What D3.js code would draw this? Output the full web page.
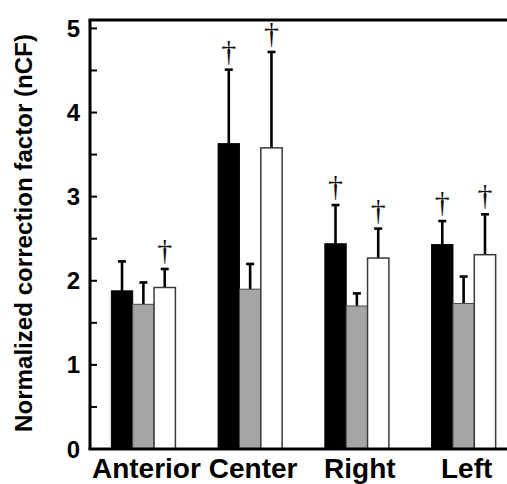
<!DOCTYPE html>
<html>
<head>
<meta charset="utf-8">
<script src="https://cdn.jsdelivr.net/npm/d3@7"></script>
<style>
  body { margin: 0; background: #fff; }
  svg { display: block; }
  text { font-family: "Liberation Sans", Arial, sans-serif; }
</style>
</head>
<body>
<div id="chart"></div>
<script>
// chart values
var categories = ["Anterior", "Center", "Right", "Left"];
var seriesNames = ["black", "gray", "white"];
var blackMean = [1.88, 3.63, 2.44, 2.43];
var blackErr  = [2.23, 4.51, 2.90, 2.71];
var grayMean  = [1.72, 1.90, 1.70, 1.73];
var grayErr   = [1.98, 2.20, 1.85, 2.05];
var whiteMean = [1.92, 3.58, 2.27, 2.31];
var whiteErr  = [2.14, 4.72, 2.62, 2.79];
var blackDagger = [false, true, true, true];
var grayDagger  = [false, false, false, false];
var whiteDagger = [true, true, true, true];
var yTicks = [0, 1, 2, 3, 4, 5];
var yMinorTicks = [0, 0.5, 1, 1.5, 2, 2.5, 3, 3.5, 4, 4.5, 5];

var width = 507, height = 484;

var svg = d3.select("#chart").append("svg")
            .attr("width", width)
            .attr("height", height);

var x = d3.scaleBand()
          .domain(categories)
          .range([90, 517])
          .paddingInner(0.4)
          .paddingOuter(0.2);

var xSub = d3.scaleBand()
             .domain(seriesNames)
             .range([0, x.bandwidth()]);

var y = d3.scaleLinear()
          .domain([0, 5.1])
          .range([449, 20]);

var means = {black: blackMean, gray: grayMean, white: whiteMean};
var errs = {black: blackErr, gray: grayErr, white: whiteErr};
var daggers = {black: blackDagger, gray: grayDagger, white: whiteDagger};
var fills = {black: "#000", gray: "#a5a5a5", white: "#fff"};
var strokes = {black: "#000", gray: "#4a4a4a", white: "#3a3a3a"};

var data = [];
categories.forEach(function(c, i) {
  seriesNames.forEach(function(s) {
    data.push({cat: c, series: s, value: means[s][i], err: errs[s][i], dagger: daggers[s][i]});
  });
});

function centerX(d) { return x(d.cat) + xSub(d.series) + xSub.bandwidth() / 2; }

// error bars (upper only)
var eb = svg.append("g").attr("class", "errors");
eb.selectAll("line.stem")
  .data(data)
  .enter()
  .append("line")
  .attr("x1", centerX)
  .attr("x2", centerX)
  .attr("y1", function(d) { return y(d.value); })
  .attr("y2", function(d) { return y(d.err); })
  .attr("stroke", "#000")
  .attr("stroke-width", 2.6);
eb.selectAll("line.cap")
  .data(data)
  .enter()
  .append("line")
  .attr("x1", function(d) { return centerX(d) - 4; })
  .attr("x2", function(d) { return centerX(d) + 4; })
  .attr("y1", function(d) { return y(d.err); })
  .attr("y2", function(d) { return y(d.err); })
  .attr("stroke", "#000")
  .attr("stroke-width", 2.6);

// bars
svg.append("g").selectAll("rect")
   .data(data)
   .enter()
   .append("rect")
   .attr("x", function(d) { return x(d.cat) + xSub(d.series); })
   .attr("y", function(d) { return y(d.value); })
   .attr("width", xSub.bandwidth())
   .attr("height", function(d) { return y(0) - y(d.value); })
   .attr("fill", function(d) { return fills[d.series]; })
   .attr("stroke", function(d) { return strokes[d.series]; })
   .attr("stroke-width", function(d) { return d.series == "white" ? 1.5 : 1; });

// significance daggers
svg.append("g").selectAll("text")
   .data(data.filter(function(d) { return d.dagger; }))
   .enter()
   .append("text")
   .attr("x", centerX)
   .attr("y", function(d) { return y(d.err) - 9; })
   .attr("text-anchor", "middle")
   .style("font-family", "'Liberation Serif', 'DejaVu Serif', serif")
   .style("font-size", "30px")
   .attr("fill", "#111")
   .text("\u2020");

// frame: left axis, bottom axis, top border
svg.append("line")
   .attr("x1", 90).attr("x2", 90)
   .attr("y1", y(5.1)).attr("y2", y(0))
   .attr("stroke", "#000").attr("stroke-width", 3);
svg.append("line")
   .attr("x1", 88.5).attr("x2", width)
   .attr("y1", y(0)).attr("y2", y(0))
   .attr("stroke", "#000").attr("stroke-width", 3);
svg.append("line")
   .attr("x1", 88.5).attr("x2", width)
   .attr("y1", y(5.1)).attr("y2", y(5.1))
   .attr("stroke", "#000").attr("stroke-width", 3);

// inward ticks
svg.append("g").selectAll("line")
   .data(yMinorTicks)
   .enter()
   .append("line")
   .attr("x1", 90).attr("x2", 97)
   .attr("y1", function(d) { return y(d); })
   .attr("y2", function(d) { return y(d); })
   .attr("stroke", "#000")
   .attr("stroke-width", 2);

svg.append("g").selectAll("text")
   .data(yTicks)
   .enter()
   .append("text")
   .attr("x", 80)
   .attr("y", function(d) { return y(d); })
   .attr("text-anchor", "end")
   .attr("dominant-baseline", "central")
   .style("font-size", "24px")
   .style("font-weight", "bold")
   .text(function(d) { return d; });

// category labels
svg.append("g").selectAll("text")
   .data(categories)
   .enter()
   .append("text")
   .attr("x", function(d) { return x(d) + x.bandwidth() / 2 + 3; })
   .attr("y", 478)
   .attr("text-anchor", "middle")
   .style("font-size", "28px")
   .style("font-weight", "bold")
   .text(function(d) { return d; });

// y axis title
svg.append("text")
   .attr("transform", "translate(32,233) rotate(-90)")
   .attr("text-anchor", "middle")
   .attr("textLength", 398)
   .attr("lengthAdjust", "spacingAndGlyphs")
   .style("font-size", "23px")
   .style("font-weight", "bold")
   .text("Normalized correction factor (nCF)");
</script>
</body>
</html>
